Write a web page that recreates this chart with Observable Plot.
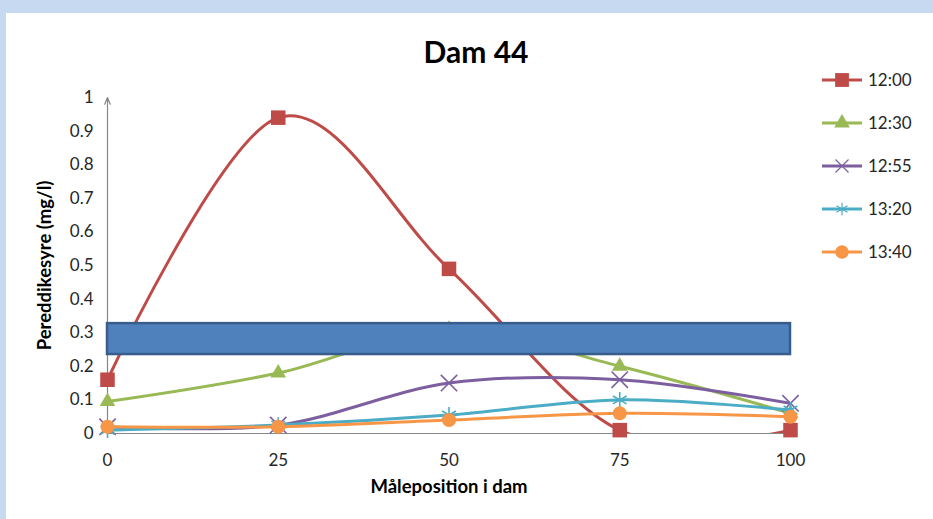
<!DOCTYPE html>
<html>
<head>
<meta charset="utf-8">
<script src="https://cdn.jsdelivr.net/npm/d3@7"></script>
<script src="https://cdn.jsdelivr.net/npm/@observablehq/plot@0.6"></script>
<style>
  html, body { margin: 0; padding: 0; }
  body { width: 933px; height: 519px; overflow: hidden; font-family: Lato, "Open Sans", sans-serif; }
  #page { position: relative; width: 933px; height: 519px; background: #c6d9f1; }
  #panel { position: absolute; left: 6px; top: 13px; right: 0; bottom: 0; background: #fff; }
  #chart { position: absolute; left: 0; top: 0; }
  #legend { position: absolute; left: 816px; top: 60px; }
</style>
</head>
<body>
<div id="page">
  <div id="panel"></div>
  <div id="chart"></div>
  <div id="legend"></div>
</div>
<script>
// Measuring positions along the dam and the sampling times
const positions = [0, 25, 50, 75, 100];
const times = ["12:00", "12:30", "12:55", "13:20", "13:40"];

// Peracetic acid concentration (mg/l) per sampling time
const v1200 = [0.16, 0.94, 0.49, 0.01, 0.01];
const v1230 = [0.095, 0.18, 0.31, 0.20, 0.06];
const v1255 = [0.02, 0.025, 0.15, 0.16, 0.09];
const v1320 = [0.01, 0.025, 0.055, 0.10, 0.07];
const v1340 = [0.02, 0.02, 0.04, 0.06, 0.05];

const colors = ["#be4b48", "#98b954", "#7d5fa0", "#4aacc5", "#f79646"];
const symbols = ["square", "triangle", "times", "asterisk", "circle"];
const radii = [8.2, 5.8, 7.5, 7.5, 7];

const yTicks = [0, 0.1, 0.2, 0.3, 0.4, 0.5, 0.6, 0.7, 0.8, 0.9, 1];
const xTicks = [0, 25, 50, 75, 100];

const title = "Dam 44";
const xLabel = "Måleposition i dam";
const yLabel = "Pereddikesyre (mg/l)";

// Blue bar that lies across the plot area
const band = [{x1: 0, x2: 100, y1: 0.235, y2: 0.327}];

const seriesValues = [v1200, v1230, v1255, v1320, v1340];
const rows = times.flatMap((t, i) =>
  positions.map((p, j) => ({time: t, pos: p, value: seriesValues[i][j], idx: i}))
);

const font = "Lato, 'Open Sans', sans-serif";
const isFilled = s => s === "square" || s === "triangle" || s === "circle";

const marks = [
  Plot.ruleY([0], {stroke: "#868686", strokeWidth: 1}),
  Plot.arrow([{x: 0}], {
    x1: 0, y1: 0, x2: 0, y2: 1,
    stroke: "#868686", strokeWidth: 1.2, headLength: 9, headAngle: 45
  }),
  Plot.axisY({
    ticks: yTicks, tickSize: 0, tickPadding: 14, label: null,
    tickFormat: d => String(+d.toFixed(1)), fontSize: 17, fill: "#262626"
  }),
  Plot.axisX({
    ticks: xTicks, tickSize: 0, tickPadding: 20, label: null,
    fontSize: 17, fill: "#262626"
  })
];

times.forEach((t, i) => {
  const data = rows.filter(d => d.idx === i);
  marks.push(Plot.line(data, {
    x: "pos", y: "value", stroke: colors[i], strokeWidth: 3,
    curve: "cardinal", clip: true
  }));
  marks.push(Plot.dot(data, {
    x: "pos", y: "value", symbol: symbols[i], r: radii[i],
    fill: isFilled(symbols[i]) ? colors[i] : "none",
    stroke: isFilled(symbols[i]) ? "none" : colors[i],
    strokeWidth: 1.6
  }));
});

marks.push(Plot.rect(band, {
  x1: "x1", x2: "x2", y1: "y1", y2: "y2",
  fill: "#4f81bd", stroke: "#385d8a", strokeWidth: 2.5
}));

marks.push(Plot.text([title], {
  frameAnchor: "top", dx: 27, dy: -35, fontSize: 30, fontWeight: "bold",
  fill: "#000", lineAnchor: "bottom"
}));
marks.push(Plot.text([xLabel], {
  frameAnchor: "bottom", dy: 59, fontSize: 18.5, fontWeight: "bold", fill: "#000"
}));
marks.push(Plot.text([yLabel], {
  frameAnchor: "left", textAnchor: "middle", dx: -62, rotate: -90,
  fontSize: 18.5, fontWeight: "bold", fill: "#000"
}));

const chart = Plot.plot({
  width: 933,
  height: 519,
  marginLeft: 107,
  marginRight: 143,
  marginTop: 97,
  marginBottom: 86,
  style: {background: "transparent", fontFamily: font, overflow: "visible"},
  x: {domain: [0, 100]},
  y: {domain: [0, 1]},
  marks
});
document.getElementById("chart").append(chart);

// Legend: line segment with marker and time label for every series
const symMap = {
  square: d3.symbolSquare, triangle: d3.symbolTriangle, times: d3.symbolTimes,
  asterisk: d3.symbolAsterisk, circle: d3.symbolCircle
};
const legendR = [7.8, 5.8, 6, 6, 6.8];
const lg = d3.select("#legend").append("svg")
  .attr("width", 117).attr("height", 215)
  .style("font-family", font);
times.forEach((t, i) => {
  const y = 20 + i * 43;
  const g = lg.append("g");
  g.append("line").attr("x1", 6).attr("x2", 46).attr("y1", y).attr("y2", y)
    .attr("stroke", colors[i]).attr("stroke-width", 3);
  const r = legendR[i];
  g.append("path")
    .attr("transform", `translate(26,${y})`)
    .attr("d", d3.symbol(symMap[symbols[i]], Math.PI * r * r)())
    .attr("fill", isFilled(symbols[i]) ? colors[i] : "none")
    .attr("stroke", isFilled(symbols[i]) ? "none" : colors[i])
    .attr("stroke-width", 1.2);
  g.append("text").attr("x", 52).attr("y", y).attr("dy", "0.36em")
    .attr("font-size", 17).attr("fill", "#262626").text(t);
});
</script>
</body>
</html>
